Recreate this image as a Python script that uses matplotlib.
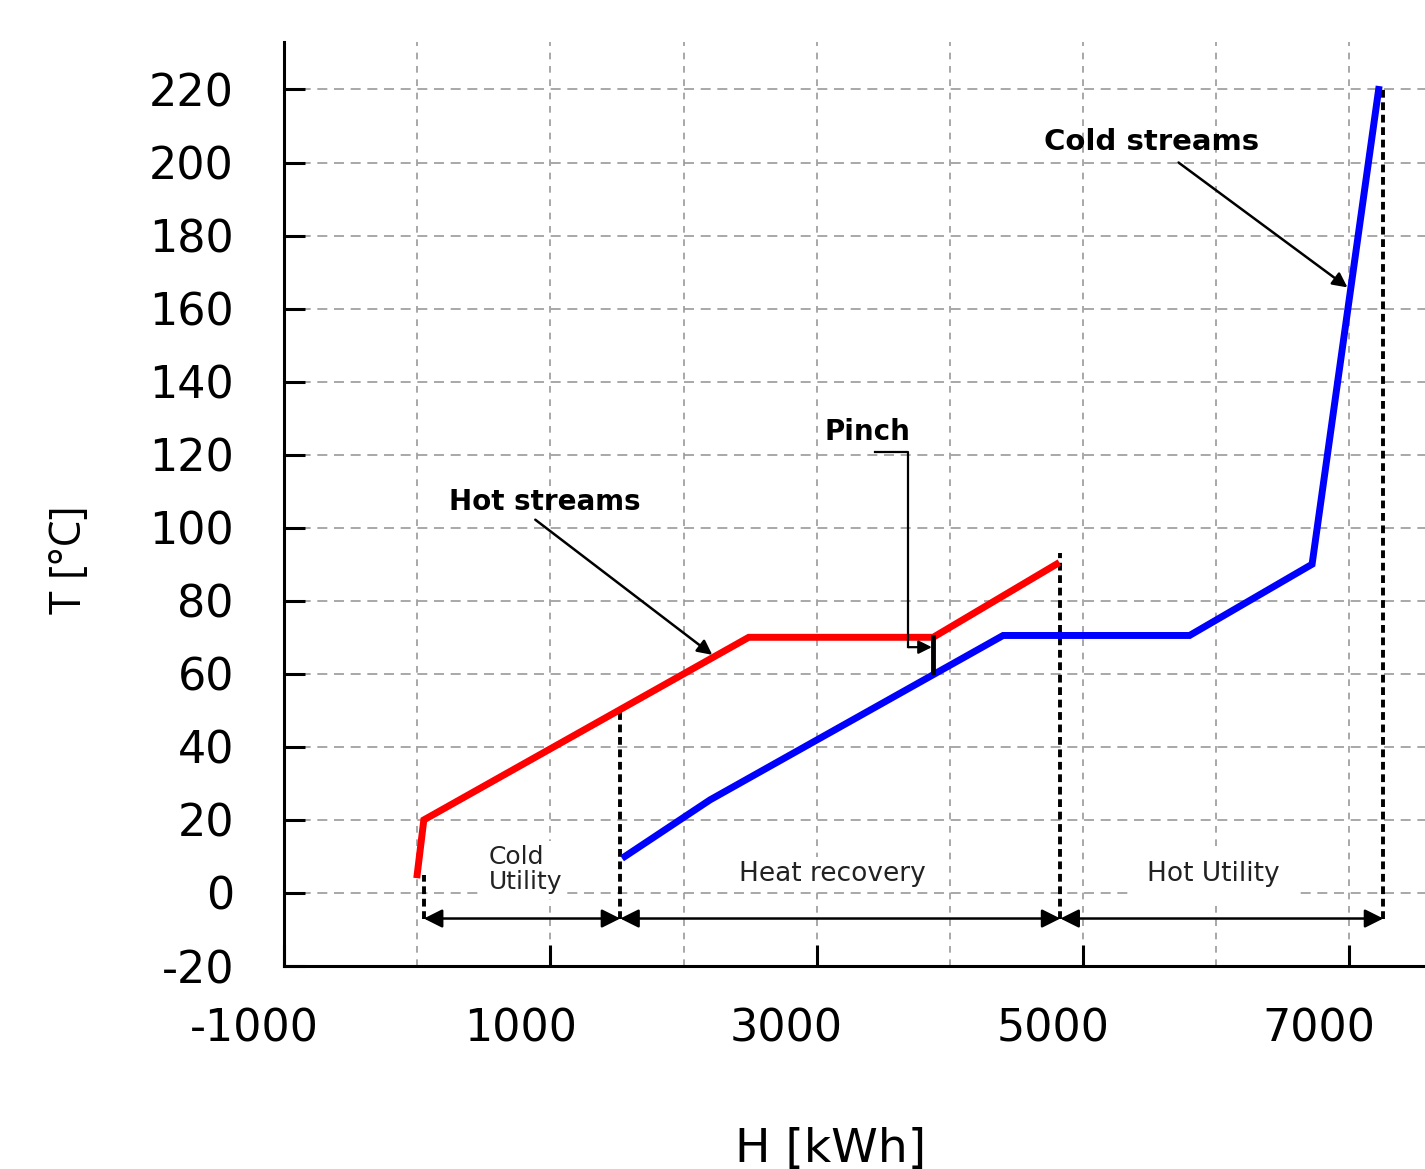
import numpy as np
import matplotlib.pyplot as plt
from matplotlib.transforms import ScaledTranslation

plt.rcParams['axes.unicode_minus'] = False

# composite curves
hot_h = [0, 50, 2490, 3875, 4800]
hot_t = [5, 20, 70, 70, 90]
cold_h = [1560, 2200, 4400, 5800, 6720, 7220]
cold_t = [10, 25.5, 70.5, 70.5, 90, 220]

pinch_h = 3875
pinch_hot_t = 70
pinch_cold_t = 60.5

# section boundaries (dashed lines) and the arrow level
bounds_h = [50, 1525, 4830, 7255]
bounds_top = [5, 50.5, 93, 220]
arrow_t = -7

section_labels = ["Cold\nUtility", "Heat recovery", "Hot Utility"]

x_ticks = [-1000, 1000, 3000, 5000, 7000]
x_grid = [0, 2000, 4000, 6000]
y_ticks = list(range(-20, 221, 20))

tick_font = "DejaVu Sans"
note_font = "DejaVu Sans"

fig = plt.figure(figsize=(14.25, 11.69), dpi=100)
ax = fig.add_axes([284 / 1425, 203 / 1169, 1141 / 1425, 924 / 1169])
ax.set_xlim(-1000, 7568)
ax.set_ylim(-20, 233)

for s in ["top", "right"]:
    ax.spines[s].set_visible(False)
for s in ["left", "bottom"]:
    ax.spines[s].set_linewidth(2.2)

ax.set_xticks(x_ticks)
ax.set_xticks(x_grid, minor=True)
ax.set_yticks(y_ticks)
ax.set_axisbelow(True)
ax.grid(True, which="both", axis="x", color="#999999", linestyle=(0, (4, 4)), linewidth=1.2)
ax.grid(True, which="major", axis="y", color="#999999", linestyle=(0, (6, 4)), linewidth=1.2)
ax.tick_params(which="major", direction="in", length=15, width=2.2)
ax.tick_params(which="minor", length=0)
ax.tick_params(axis="y", pad=36)
ax.tick_params(axis="x", pad=30)

for lab in ax.get_xticklabels() + ax.get_yticklabels():
    lab.set_fontfamily(tick_font)
    lab.set_fontsize(32)
for lab in ax.get_xticklabels():
    lab.set_transform(lab.get_transform() + ScaledTranslation(-0.30, 0, fig.dpi_scale_trans))

# curves
ax.plot(hot_h, hot_t, color="#ff0000", lw=5, solid_joinstyle="miter", zorder=4)
ax.plot(cold_h, cold_t, color="#0000ff", lw=5, solid_joinstyle="miter", zorder=4)

# section boundaries
for h, top in zip(bounds_h, bounds_top):
    ax.plot([h, h], [arrow_t, top], color="black", lw=2.8, linestyle=(0, (2.0, 1.2)), zorder=3)
for a, b in zip(bounds_h[:-1], bounds_h[1:]):
    ax.annotate("", xy=(b, arrow_t), xytext=(a, arrow_t),
                arrowprops=dict(arrowstyle="<|-|>", color="black", lw=1.8,
                                mutation_scale=28, shrinkA=0, shrinkB=0), zorder=3)

ax.text(535, 6.3, section_labels[0], fontfamily=note_font, fontsize=18, color="#222222",
        ha="left", va="center", linespacing=1.05,
        bbox=dict(facecolor="white", edgecolor="none", pad=3), zorder=2)
ax.text(3117, 5.2, section_labels[1], fontfamily=note_font, fontsize=19, color="#222222",
        ha="center", va="center",
        bbox=dict(facecolor="white", edgecolor="none", pad=3), zorder=2)
ax.text(5979, 5.2, section_labels[2], fontfamily=note_font, fontsize=19, color="#222222",
        ha="center", va="center",
        bbox=dict(facecolor="white", edgecolor="none", pad=10), zorder=2)

# pinch marker
ax.plot([pinch_h, pinch_h], [pinch_cold_t, pinch_hot_t], color="black", lw=3.5, zorder=5)
ax.plot([3440, 3688, 3688], [120.8, 120.8, 67.3], color="black", lw=1.6, zorder=5)
ax.annotate("", xy=(pinch_h - 10, 67.3), xytext=(3688, 67.3),
            arrowprops=dict(arrowstyle="-|>", color="black", lw=1.6,
                            mutation_scale=20, shrinkA=0, shrinkB=0), zorder=5)
ax.text(3380, 126.3, "Pinch", fontfamily=note_font, fontweight="bold", fontsize=20,
        ha="center", va="center", zorder=5)

# stream labels
arrow_kw = dict(arrowstyle="-|>", color="black", lw=1.8, mutation_scale=22, shrinkA=0, shrinkB=0)
ax.text(955, 107, "Hot streams", fontfamily=note_font, fontweight="bold", fontsize=20,
        ha="center", va="center", zorder=5)
ax.annotate("", xy=(2216, 65.2), xytext=(887, 102.2), arrowprops=arrow_kw, zorder=5)
ax.text(5514, 205.5, "Cold streams", fontfamily=note_font, fontweight="bold", fontsize=21,
        ha="center", va="center", zorder=5)
ax.annotate("", xy=(6986, 165.8), xytext=(5717, 200), arrowprops=arrow_kw, zorder=5)

fig.text(0.049, 0.521, "T [°C]", fontfamily="Open Sans", fontsize=31, rotation=90,
         ha="center", va="center")
fig.text(0.583, 0.017, "H [kWh]", fontfamily=tick_font, fontsize=34,
         ha="center", va="center")

fig.savefig("out.png", dpi=100)
